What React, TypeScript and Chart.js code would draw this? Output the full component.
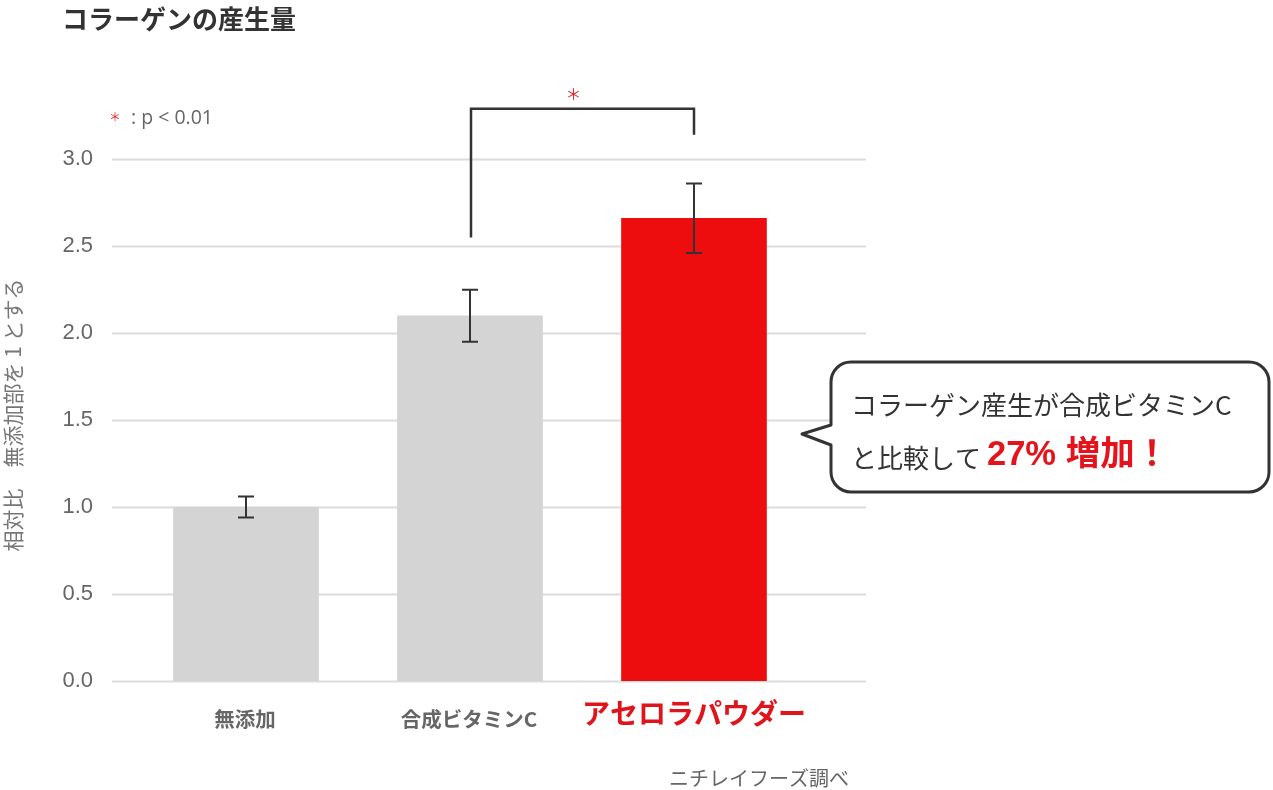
import React, { useEffect, useRef } from "react";
import { Chart, registerables } from "chart.js";

Chart.register(...registerables);

const categories = ["無添加", "合成ビタミンC", "アセロラパウダー"];
const values = [1.0, 2.1, 2.66];
const errors = [0.06, 0.15, 0.2];
const barColors = ["#d4d4d4", "#d4d4d4", "#ed0d0e"];
const labelColors = ["#666666", "#666666", "#e0151b"];
const yTicks = [0, 0.5, 1.0, 1.5, 2.0, 2.5, 3.0];
const yMax = 3.3;
// significance bracket between bar 1 and bar 2 (value units)
const bracketTop = 3.29;
const bracketLeftBottom = 2.55;
const bracketRightBottom = 3.14;

const CJK = "'Noto Sans CJK JP', 'Noto Sans', sans-serif";

const overlayPlugin = {
  id: "overlay",
  beforeDatasetsDraw(chart: any) {
    const { ctx, chartArea } = chart;
    const y = chart.scales.y;
    ctx.save();
    ctx.strokeStyle = "#dcdcdc";
    ctx.lineWidth = 2;
    yTicks.forEach((v) => {
      const py = Math.round(y.getPixelForValue(v)) + 0.5;
      ctx.beginPath();
      ctx.moveTo(chartArea.left - 22, py);
      ctx.lineTo(chartArea.right + 60, py);
      ctx.stroke();
    });
    ctx.restore();
  },
  afterDatasetsDraw(chart: any) {
    const { ctx } = chart;
    const y = chart.scales.y;
    const meta = chart.getDatasetMeta(0);
    ctx.save();
    ctx.strokeStyle = "#333333";
    ctx.lineWidth = 2;
    values.forEach((v, i) => {
      const px = meta.data[i].x;
      const yt = y.getPixelForValue(v + errors[i]);
      const yb = y.getPixelForValue(v - errors[i]);
      ctx.beginPath();
      ctx.moveTo(px, yt);
      ctx.lineTo(px, yb);
      ctx.moveTo(px - 8, yt);
      ctx.lineTo(px + 8, yt);
      ctx.moveTo(px - 8, yb);
      ctx.lineTo(px + 8, yb);
      ctx.stroke();
    });
    // bracket
    const lx = meta.data[1].x + 1;
    const rx = meta.data[2].x;
    const ty = y.getPixelForValue(bracketTop);
    ctx.lineWidth = 2.5;
    ctx.beginPath();
    ctx.moveTo(lx, y.getPixelForValue(bracketLeftBottom));
    ctx.lineTo(lx, ty);
    ctx.lineTo(rx, ty);
    ctx.lineTo(rx, y.getPixelForValue(bracketRightBottom));
    ctx.stroke();
    ctx.fillStyle = "#e8242c";
    ctx.font = `16px ${CJK}`;
    ctx.textAlign = "center";
    ctx.textBaseline = "middle";
    ctx.fillText("＊", lx + (rx - lx) * 0.46, ty - 15);
    ctx.restore();
  },
  afterDraw(chart: any) {
    const { ctx } = chart;
    const meta = chart.getDatasetMeta(0);
    ctx.save();
    // title
    ctx.fillStyle = "#333333";
    ctx.font = `bold 26px ${CJK}`;
    ctx.textAlign = "left";
    ctx.textBaseline = "middle";
    ctx.fillText("コラーゲンの産生量", 62, 19);

    // y-axis title
    ctx.save();
    ctx.translate(13, 415);
    ctx.rotate(-Math.PI / 2);
    ctx.fillStyle = "#777777";
    ctx.font = `21px ${CJK}`;
    ctx.textAlign = "center";
    ctx.fillText("相対比　無添加部を 1 とする", 0, 0);
    ctx.restore();

    // p-value note
    ctx.fillStyle = "#e8242c";
    ctx.font = `12px ${CJK}`;
    ctx.textAlign = "left";
    ctx.fillText("＊", 109, 117);
    ctx.fillStyle = "#666666";
    ctx.font = `19.5px 'Open Sans', sans-serif`;
    ctx.fillText(": p < 0.01", 131, 118);

    // category labels
    ctx.textAlign = "center";
    categories.forEach((c, i) => {
      const px = meta.data[i].x;
      ctx.fillStyle = labelColors[i];
      if (i === 2) {
        ctx.font = `bold 28px ${CJK}`;
        ctx.fillText(c, px, 713);
      } else {
        ctx.font = `bold 20.5px ${CJK}`;
        ctx.fillText(c, px - 1, 719);
      }
    });

    // footer
    ctx.fillStyle = "#666666";
    ctx.font = `20px ${CJK}`;
    ctx.textAlign = "left";
    ctx.fillText("ニチレイフーズ調べ", 669, 778);

    // callout
    const x0 = 831, y0 = 362, x1 = 1269, y1 = 492, r = 20;
    ctx.beginPath();
    ctx.moveTo(x0 + r, y0);
    ctx.lineTo(x1 - r, y0);
    ctx.arcTo(x1, y0, x1, y0 + r, r);
    ctx.lineTo(x1, y1 - r);
    ctx.arcTo(x1, y1, x1 - r, y1, r);
    ctx.lineTo(x0 + r, y1);
    ctx.arcTo(x0, y1, x0, y1 - r, r);
    ctx.lineTo(x0, 445);
    ctx.lineTo(802, 434);
    ctx.lineTo(x0, 425);
    ctx.lineTo(x0, y0 + r);
    ctx.arcTo(x0, y0, x0 + r, y0, r);
    ctx.closePath();
    ctx.fillStyle = "#ffffff";
    ctx.fill();
    ctx.strokeStyle = "#333333";
    ctx.lineWidth = 3;
    ctx.lineJoin = "round";
    ctx.stroke();

    ctx.fillStyle = "#333333";
    ctx.font = `26px ${CJK}`;
    ctx.textAlign = "left";
    ctx.fillText("コラーゲン産生が合成ビタミンC", 851, 405);
    ctx.fillText("と比較して", 851, 458);
    ctx.fillStyle = "#e5141c";
    ctx.font = `bold 34.5px 'Liberation Sans', ${CJK}`;
    ctx.fillText("27% 増加！", 987, 455);
    ctx.restore();
  },
};

export default function App() {
  const ref = useRef<HTMLCanvasElement | null>(null);
  useEffect(() => {
    if (!ref.current) return;
    const chart = new Chart(ref.current, {
      type: "bar",
      data: {
        labels: categories,
        datasets: [
          {
            data: values,
            backgroundColor: barColors,
            borderWidth: 0,
            barThickness: 145,
          },
        ],
      },
      options: {
        responsive: false,
        animation: false,
        layout: { padding: { top: 107, left: 0, right: 467, bottom: 109 } },
        plugins: { legend: { display: false }, tooltip: { enabled: false } },
        scales: {
          x: { display: false },
          y: {
            min: 0,
            max: yMax,
            afterBuildTicks: (scale: any) => {
              scale.ticks = yTicks.map((v) => ({ value: v }));
            },
            afterFit: (scale: any) => {
              scale.width = 134;
            },
            grid: { display: false, drawTicks: false },
            border: { display: false },
            ticks: {
              padding: 41,
              color: "#666666",
              font: { family: "'Liberation Sans', sans-serif", size: 22 },
              callback: (v: any) => Number(v).toFixed(1),
            },
          },
        },
      },
      plugins: [overlayPlugin],
    });
    return () => chart.destroy();
  }, []);
  return (
    <div style={{ position: "absolute", left: 0, top: 0, width: 1273, height: 790 }}>
      <canvas ref={ref} width={1273} height={790} />
    </div>
  );
}
